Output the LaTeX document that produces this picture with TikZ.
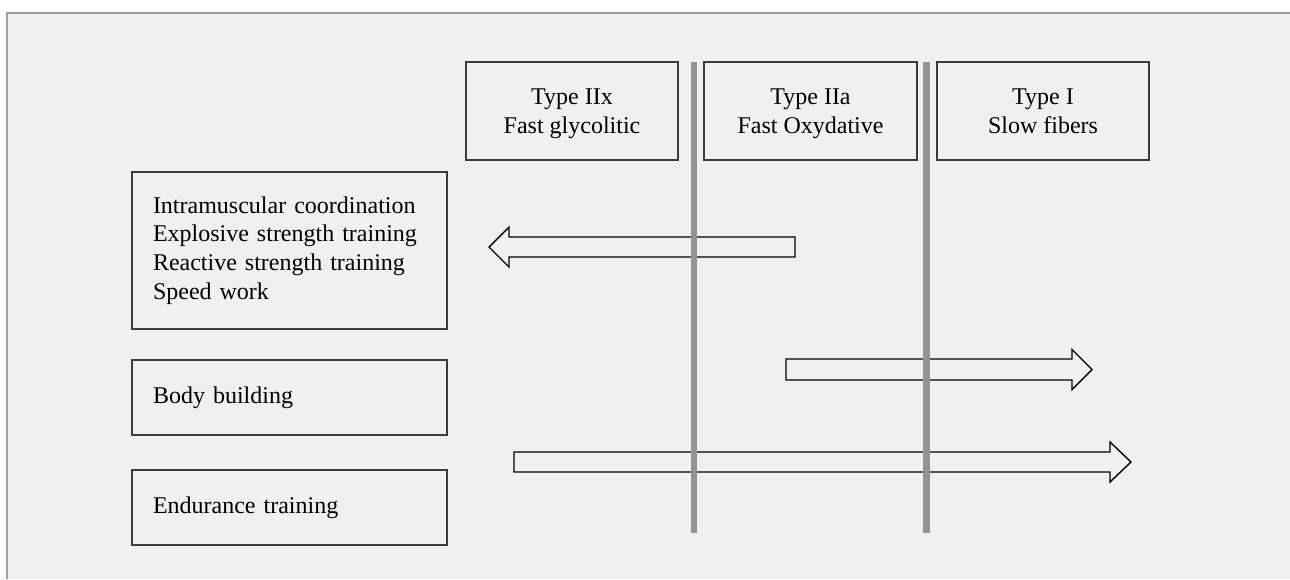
\documentclass[tikz,border=0pt]{standalone}
\usepackage{fontspec}
\setmainfont{Liberation Serif}
\definecolor{bgc}{RGB}{240,240,240}
\definecolor{framec}{RGB}{160,160,160}
\definecolor{boxc}{RGB}{60,60,60}
\definecolor{barc}{RGB}{147,147,150}
\newcommand{\topstrut}{\rule{0pt}{11.9pt}}
\tikzset{
  typebox/.style={draw=boxc, line width=0.7pt, rectangle, minimum width=106pt, minimum height=49pt, align=center, inner sep=0pt, font=\fontsize{12}{14.5}\selectfont},
  trainbox/.style={draw=boxc, line width=0.7pt, rectangle, text width=136.5pt, inner xsep=10.5pt, inner ysep=0pt, align=left, font=\fontsize{12}{14.4}\selectfont},
  blockarr/.style={draw=black, line width=0.7pt, line join=miter},
  divider/.style={draw=barc, line width=3.3pt}
}
\begin{document}
\begin{tikzpicture}[x=0.5pt,y=-0.5pt]
\useasboundingbox (0,0) rectangle (1290,579);
% background frame
\fill[bgc] (7,13) rectangle (1290,579);
\draw[framec, line width=1pt] (7,579) -- (7,13) -- (1290,13);

% fibre type boxes
\node[typebox] (t1) at (572,111) {\topstrut Type IIx\strut\\Fast glycolitic\strut};
\node[typebox, minimum width=106.5pt] (t2) at (810.5,111) {\topstrut Type IIa\strut\\Fast Oxydative\strut};
\node[typebox] (t3) at (1043,111) {\topstrut Type I\strut\\Slow fibers\strut};

% training boxes
\node[trainbox, minimum height=78.5pt] (b1) at (289.5,250.5) {Intramuscular coordination\strut\\Explosive strength training\strut\\Reactive strength training\strut\\Speed work\strut};
\node[trainbox, minimum height=37.5pt] (b2) at (289.5,397.5) {Body building\strut};
\node[trainbox, minimum height=37.5pt] (b3) at (289.5,507.5) {Endurance training\strut};

% block arrows
\coordinate (a1s) at (795,247);
\coordinate (a1t) at (489,247);
\draw[blockarr] ([shift={(0,-10)}]a1s) -- (509,237) -- (509,227) -- (a1t) -- (509,267) -- (509,257) -- ([shift={(0,10)}]a1s) -- cycle;

\coordinate (a2s) at (786,369.5);
\coordinate (a2t) at (1092,369.5);
\draw[blockarr] ([shift={(0,-10.5)}]a2s) -- (1072,359) -- (1072,349.5) -- (a2t) -- (1072,389.5) -- (1072,380) -- ([shift={(0,10.5)}]a2s) -- cycle;

\coordinate (a3s) at (514,462);
\coordinate (a3t) at (1131,462);
\draw[blockarr] ([shift={(0,-10)}]a3s) -- (1110,452) -- (1110,442) -- (a3t) -- (1110,482) -- (1110,472) -- ([shift={(0,10)}]a3s) -- cycle;

% dividers
\coordinate (d1top) at (694,62);
\coordinate (d1bot) at (694,533);
\coordinate (d2top) at (926.5,62);
\coordinate (d2bot) at (926.5,533);
\draw[divider] (d1top) -- (d1bot);
\draw[divider] (d2top) -- (d2bot);
\end{tikzpicture}
\end{document}
